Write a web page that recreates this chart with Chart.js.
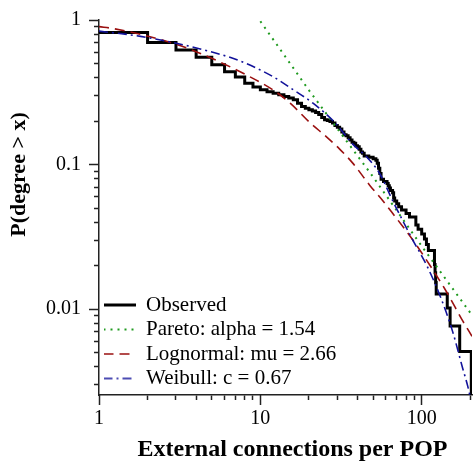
<!DOCTYPE html>
<html><head><meta charset="utf-8">
<script src="https://cdn.jsdelivr.net/npm/chart.js@4/dist/chart.umd.min.js"></script>
<style>html,body{margin:0;padding:0;background:#fff;}#wrap{width:475px;height:464px;}</style>
</head><body><div id="wrap"><canvas id="c" width="475" height="464"></canvas></div>
<script>
// ---- data ----
const totalPOPs = 392;
const observedX = [1,2,3,4,5,6,7,8,9,10,11,12,13,14,15,16,17,18,19,20,21,22,23,24,25,26,27,28,29,30,31,32,33,34,35,36,37,38,39,40,41,42,43,44,47,50,52,53,54,55,56,58,61,62,63,64,66,67,68,70,72,75,80,84,92,95,100,104,107,110,120,121,122,123,144,150,172,203];
const observedCount = [321,274,243,217,192,172,158,143,135,129,125,122,119,116,113,110,104,99,96,94,92,90,87,83,80,79,78,76,73,71,69,66,63,62,60,58,56,55,53,52,50,48,47,45,44,43,42,40,37,34,31,30,29,28,27,26,25,23,22,21,20,19,18,17,15,14,13,12,11,10,8,7,6,5,4,3,2,1];
const paretoX = [10,20,50,100,205];
const paretoP = [0.98,0.327,0.0822,0.0273,0.0091];
const lognormalX = [1,1.23,2.77,3.86,5.91,8.25,12.05,15.3,20.3,25.8,31,37.5,47.7,57.4,66.2,88.1,117,143,179.6,205];
const lognormalP = [0.90,0.872,0.70,0.614,0.499,0.415,0.327,0.266,0.195,0.155,0.128,0.102,0.0718,0.0563,0.0459,0.0301,0.0188,0.0131,0.0083,0.0065];
const weibullX = [1,1.81,4.24,7.5,12.05,15.96,21.2,29,37.5,45.8,55.1,66.2,88.1,107.6,129.5,155.7,179.6,192.9,198.6];
const weibullP = [0.838,0.77,0.631,0.52,0.404,0.33,0.266,0.195,0.138,0.1125,0.0861,0.056,0.0301,0.020,0.0125,0.00697,0.00389,0.00294,0.00255];
const seriesNames = ['Observed','Pareto: alpha = 1.54','Lognormal: mu = 2.66','Weibull: c = 0.67'];
const xMajorTicks = [1,10,100];
const xMajorLabels = ['1','10','100'];
const xMinorTicks = [2,3,4,5,6,7,8,9,20,30,40,50,60,70,80,90,200];
const yMajorTicks = [0.01,0.1,1];
const yMajorLabels = ['0.01','0.1','1'];
const yMinorTicks = [0.003,0.004,0.005,0.006,0.007,0.008,0.009,0.02,0.03,0.04,0.05,0.06,0.07,0.08,0.09,0.2,0.3,0.4,0.5,0.6,0.7,0.8,0.9];
const xTitle = 'External connections per POP';
const yTitle = 'P(degree > x)';

// ---- styles ----
const SERIF = '"Liberation Serif","Times New Roman",serif';
Chart.defaults.font.family = SERIF;
Chart.defaults.color = '#000';
const AX = '#222';
const styles = [
  {color: '#000000', width: 3, dash: []},
  {color: '#1f9a1f', width: 2, dash: [2, 5]},
  {color: '#9a1010', width: 1.6, dash: [10, 6]},
  {color: '#12129a', width: 1.6, dash: [9, 4, 2, 4]}
];
// legend sample swatch (a short line in the series' style)
function swatch(st) {
  const c = document.createElement('canvas');
  c.width = 32; c.height = 8;
  const g = c.getContext('2d');
  g.strokeStyle = st.color; g.lineWidth = st.width; g.setLineDash(st.dash);
  g.beginPath(); g.moveTo(0, 4); g.lineTo(32, 4); g.stroke();
  return c;
}
const pts = (xs, ys) => xs.map((x, i) => ({x: x, y: ys[i]}));
const xMin = 1, xMax = 205, yMin = 1 / totalPOPs, yMax = 1;

const placer = {
  id: 'placer',
  afterLayout(chart) {
    const ca = chart.chartArea;
    const lg = chart.legend;
    if (lg) {
      lg.left = ca.left + 1; lg.right = ca.right;
      lg.bottom = ca.bottom; lg.top = ca.bottom - 104;
    }
    const y2 = chart.scales.y2;
    y2.top -= 33; y2.bottom -= 33;
    const x2 = chart.scales.x2;
    x2.left += 7; x2.right += 7;
  }
};

const ds = (i, data, extra) => Object.assign({
  label: seriesNames[i], data: data,
  borderColor: styles[i].color, backgroundColor: styles[i].color,
  borderWidth: styles[i].width, borderDash: styles[i].dash,
  pointRadius: 0, pointStyle: swatch(styles[i]), fill: false, order: 4 - i
}, extra || {});

new Chart(document.getElementById('c'), {
  type: 'line',
  data: {
    datasets: [
      ds(0, pts(observedX, observedX.map((x, i) => observedCount[i] / totalPOPs)), {stepped: 'before'}),
      ds(1, pts(paretoX, paretoP)),
      ds(2, pts(lognormalX, lognormalP), {cubicInterpolationMode: 'monotone'}),
      ds(3, pts(weibullX, weibullP), {cubicInterpolationMode: 'monotone'})
    ]
  },
  options: {
    responsive: false, animation: false, events: [],
    layout: {padding: {top: 14, right: 3, left: 0, bottom: 0}},
    plugins: {
      tooltip: {enabled: false},
      legend: {
        position: 'chartArea', align: 'start',
        labels: {usePointStyle: true, pointStyleWidth: 32, padding: 3.5, color: '#000',
                 font: {family: SERIF, size: 21},
                 sort: (a, b) => a.datasetIndex - b.datasetIndex}
      }
    },
    scales: {
      x: {type: 'logarithmic', position: 'bottom', weight: 0, min: xMin, max: xMax,
          afterBuildTicks: s => { s.ticks = xMinorTicks.map(v => ({value: v})); },
          afterFit: s => { s.height = 0; },
          ticks: {display: false, autoSkip: false},
          grid: {display: true, drawOnChartArea: false, drawTicks: true, tickLength: 5, tickColor: AX, tickWidth: 1.5},
          border: {display: true, color: AX, width: 1.5}},
      x2: {type: 'logarithmic', position: 'bottom', weight: 1, min: xMin, max: xMax,
          afterBuildTicks: s => { s.ticks = xMajorTicks.map(v => ({value: v})); },
          afterFit: s => { s.height = 69; },
          ticks: {display: true, autoSkip: false, maxRotation: 0, padding: 2, color: '#000',
                  font: {family: SERIF, size: 20},
                  callback: (v, i) => xMajorLabels[i]},
          grid: {display: true, drawOnChartArea: false, drawTicks: true, tickLength: 10, tickColor: AX, tickWidth: 1.5},
          border: {display: false},
          title: {display: true, text: xTitle, color: '#000', padding: {top: 0, bottom: 0},
                  font: {family: SERIF, size: 24, weight: 'bold'}}},
      y: {type: 'logarithmic', position: 'left', weight: 0, min: yMin, max: yMax,
          afterBuildTicks: s => { s.ticks = yMinorTicks.map(v => ({value: v})); },
          afterFit: s => { s.width = 0; },
          ticks: {display: false, autoSkip: false},
          grid: {display: true, drawOnChartArea: false, drawTicks: true, tickLength: 5, tickColor: AX, tickWidth: 1.5},
          border: {display: true, color: AX, width: 1.5}},
      y2: {type: 'logarithmic', position: 'left', weight: 1, min: yMin, max: yMax,
          afterBuildTicks: s => { s.ticks = yMajorTicks.map(v => ({value: v})); },
          afterFit: s => { s.width = 99; },
          ticks: {display: true, autoSkip: false, padding: 8, color: '#000',
                  font: {family: SERIF, size: 20},
                  callback: (v, i) => yMajorLabels[i]},
          grid: {display: true, drawOnChartArea: false, drawTicks: true, tickLength: 10, tickColor: AX, tickWidth: 1.5},
          border: {display: false},
          title: {display: true, text: yTitle, color: '#000', padding: {top: 6, bottom: 0},
                  font: {family: SERIF, size: 22, weight: 'bold'}}}
    }
  },
  plugins: [placer]
});
</script></body></html>
